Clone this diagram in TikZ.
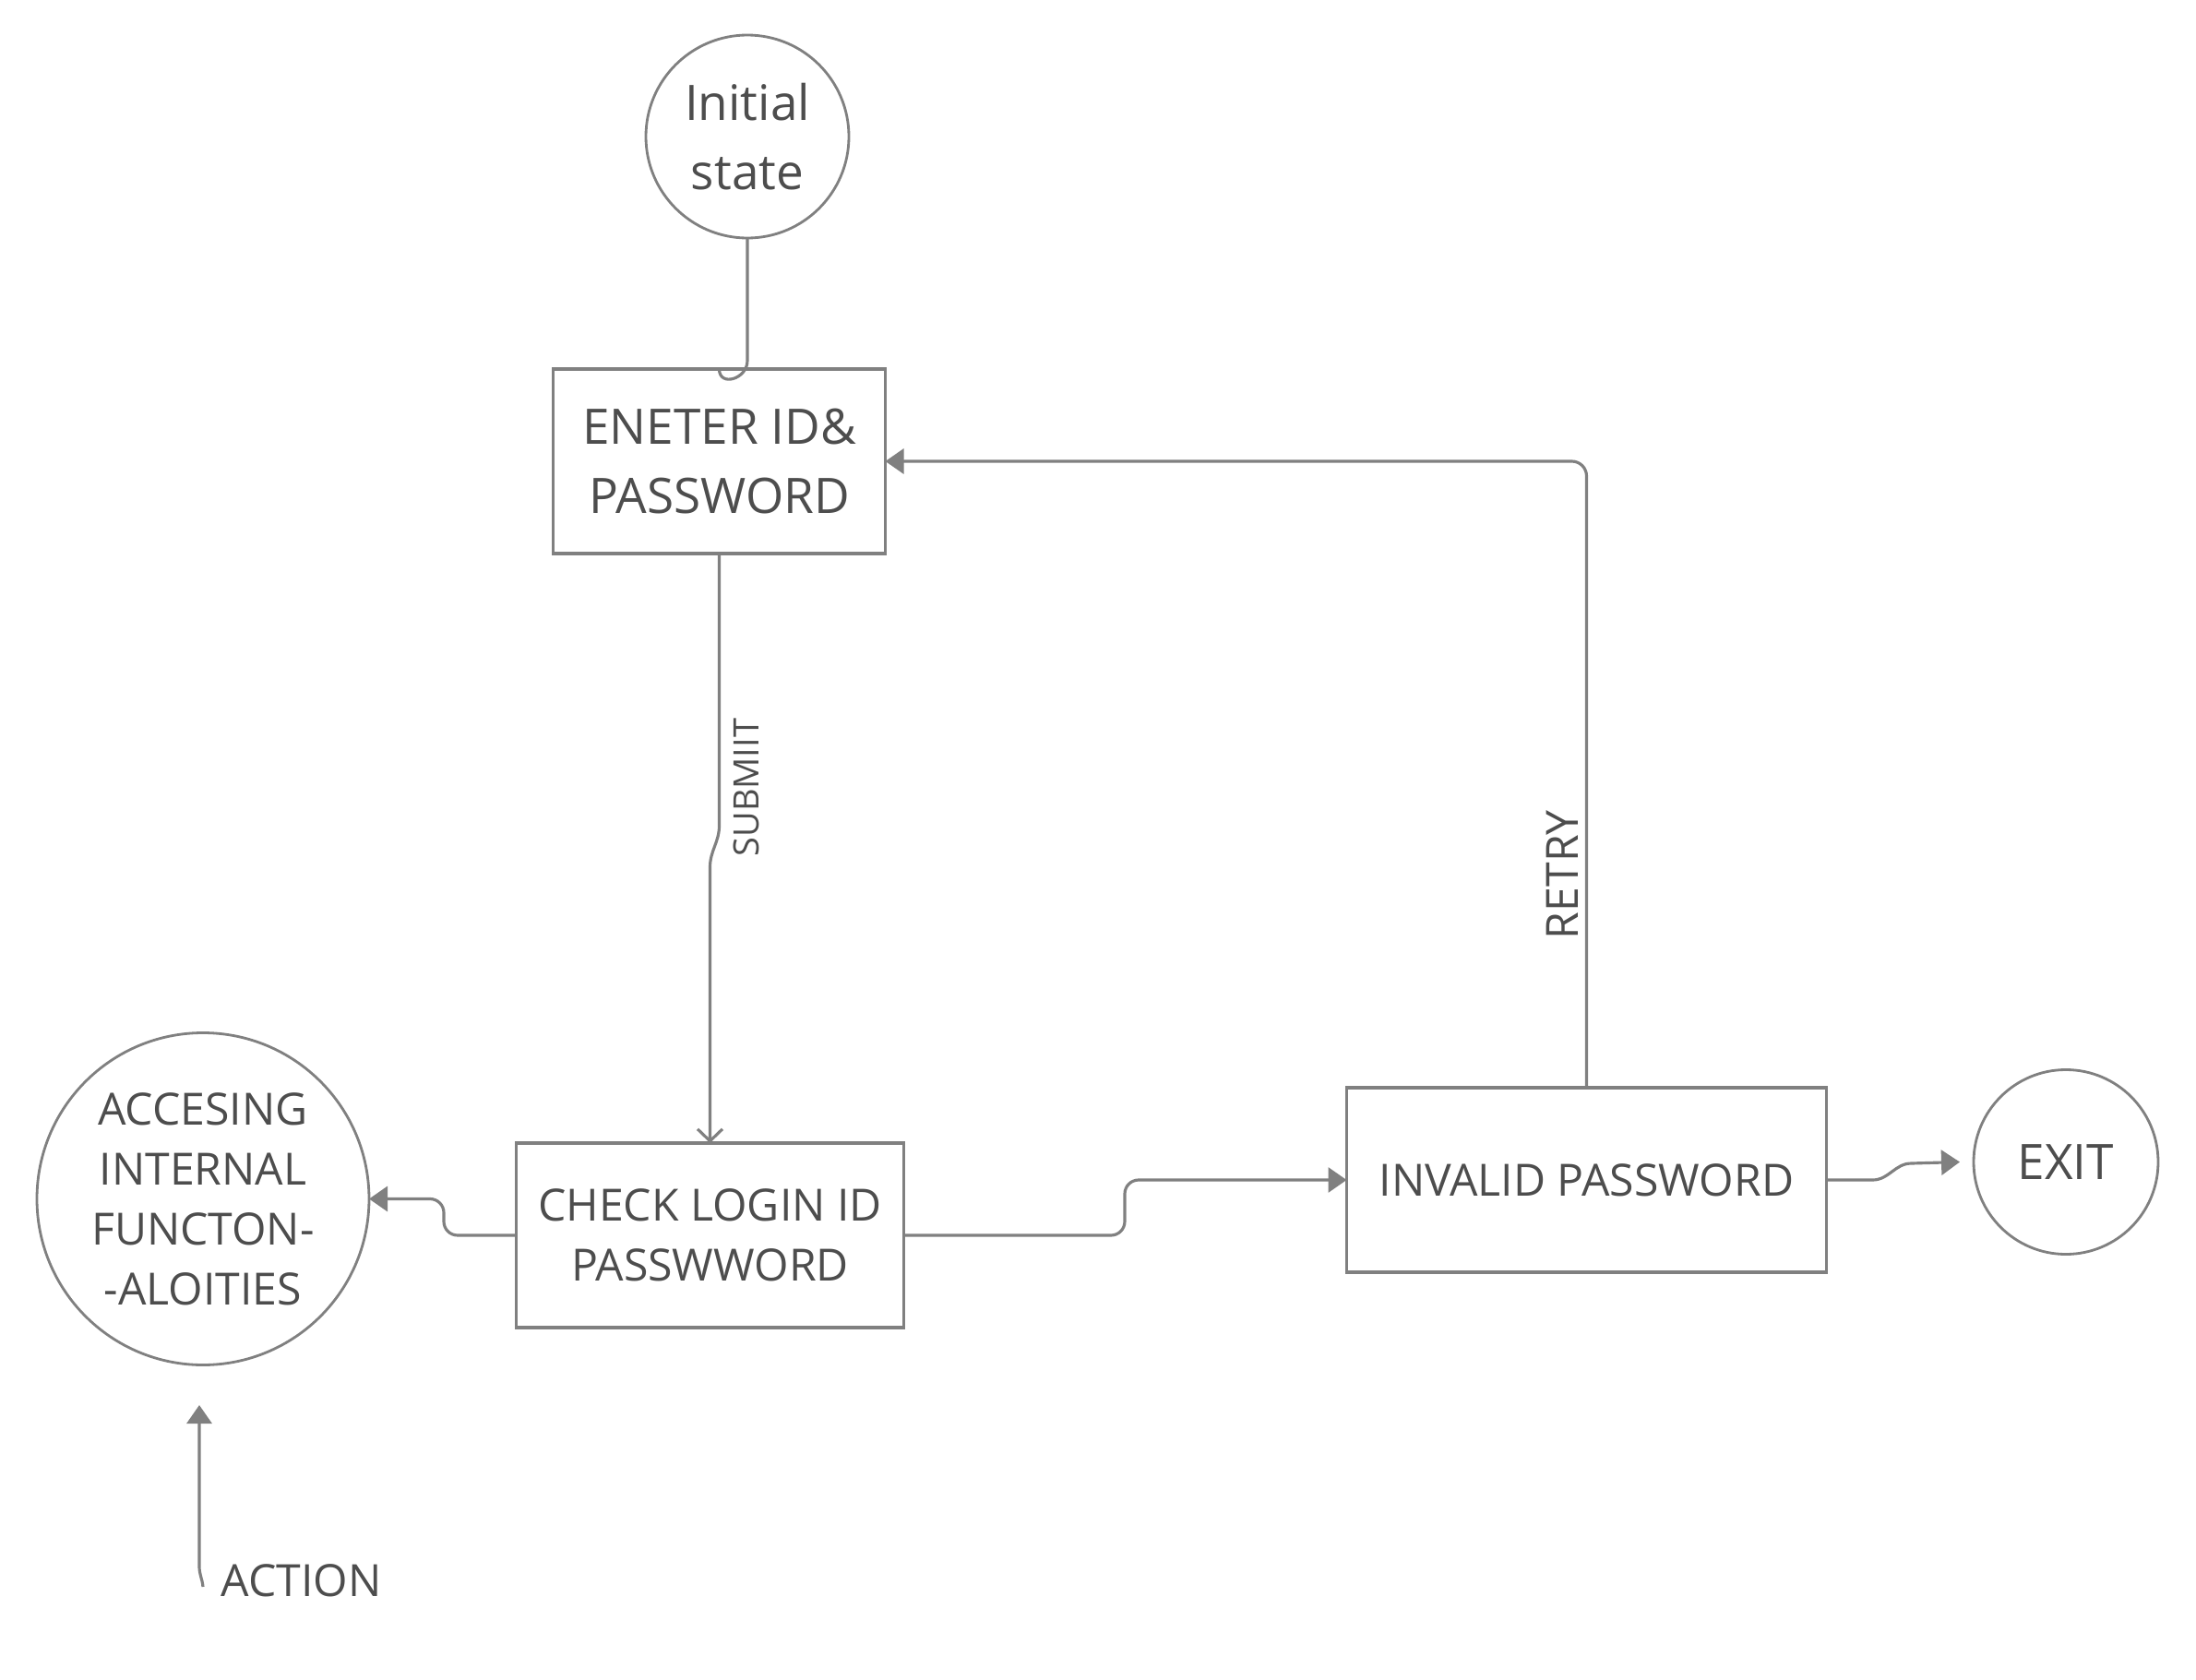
\documentclass[tikz,border=0pt]{standalone}
\usepackage{fontspec}
\setmainfont{Open Sans}
\usetikzlibrary{shapes.geometric,arrows.meta,positioning}
\definecolor{linegray}{HTML}{808080}
\definecolor{inkgray}{HTML}{4D4D4D}
\newcommand{\fbig}{\fontsize{15.1}{21.2}\selectfont}
\newcommand{\fmid}{\fontsize{13.7}{18.5}\selectfont}
\newcommand{\fsmall}{\fontsize{10.8}{13}\selectfont}
\tikzset{
  state style/.style={circle, draw=linegray, line width=0.8pt, inner sep=0pt,
    outer sep=0pt, align=center, text=inkgray},
  proc style/.style={rectangle, draw=linegray, line width=1pt, outer sep=0pt,
    minimum height=2cm, align=center, text=inkgray},
  flow style/.style={-{Triangle[length=2mm,width=2.7mm]}, draw=linegray, line width=0.9pt},
  open style/.style={-{Straight Barb[length=1.3mm,width=2.7mm]}, draw=linegray, line width=0.9pt},
  tag style/.style={text=inkgray, inner sep=0pt}
}

\begin{document}
\begin{tikzpicture}[node distance=1.6cm]
\useasboundingbox (0,0) rectangle (23.8,-18.21);
\node[state style, minimum size=2.2cm, font=\fbig] (init) at (8.10,-1.48) {Initial\\state};
\node[proc style, minimum width=3.6cm, font=\fbig, below=1.42cm of init, xshift=-0.305cm] (enter) {ENETER ID\&\\PASSWORD};
\node[proc style, minimum width=4.2cm, font=\fmid, below=6.39cm of enter, xshift=-0.1cm] (check) {CHECK LOGIN ID\\PASSWWORD};
\node[state style, minimum size=3.6cm, font=\fmid, left=1.595cm of check, yshift=0.395cm] (access) {ACCESING\\INTERNAL\\FUNCTON-\\-ALOITIES};
\node[proc style, minimum width=5.2cm, font=\fmid, right=4.8cm of check, yshift=0.6cm] (invalid) {INVALID PASSWORD};
\node[state style, minimum size=2cm, font=\fbig, right=1.595cm of invalid, yshift=0.195cm] (exit) {EXIT};
\coordinate (acttail) at (2.20,-17.20);
\coordinate (acttip) at (2.16,-15.23);
\node[tag style, font=\fmid, anchor=base west] (action) at (2.39,-17.30) {ACTION};
% connectors
\draw[draw=linegray, line width=0.9pt] (init.south) -- ++(0,-1.33) to[out=-90,in=-90,looseness=1.6] (enter.north);
\draw[open style] (enter.south) -- ++(0,-2.95)
  node[pos=0.86, rotate=90, anchor=north, tag style, inner sep=4pt, font=\fsmall] {SUBMIIT}
  to[out=-90,in=90] ++(-0.1,-0.45) -- (check.north);
\draw[flow style, rounded corners=0.15cm] (check.west) -- ++(-0.785,0) |- (access.east);
\draw[flow style, rounded corners=0.15cm] (check.east) -- ++(2.395,0) |- (invalid.west);
\draw[flow style] (invalid.east) -- ++(0.5,0) to[out=0,in=180] ++(0.42,0.18) -- ([xshift=-0.15cm]exit.west);
\draw[flow style, rounded corners=0.16cm] (invalid.north)
  -- node[pos=0.34, rotate=90, anchor=south, tag style, inner sep=2pt, font=\fmid] {RETRY}
  (invalid.north |- enter.east) -- (enter.east);
\draw[flow style] (acttail) to[out=95,in=-90] ++(-0.04,0.22) -- (acttip);
\end{tikzpicture}
\end{document}
